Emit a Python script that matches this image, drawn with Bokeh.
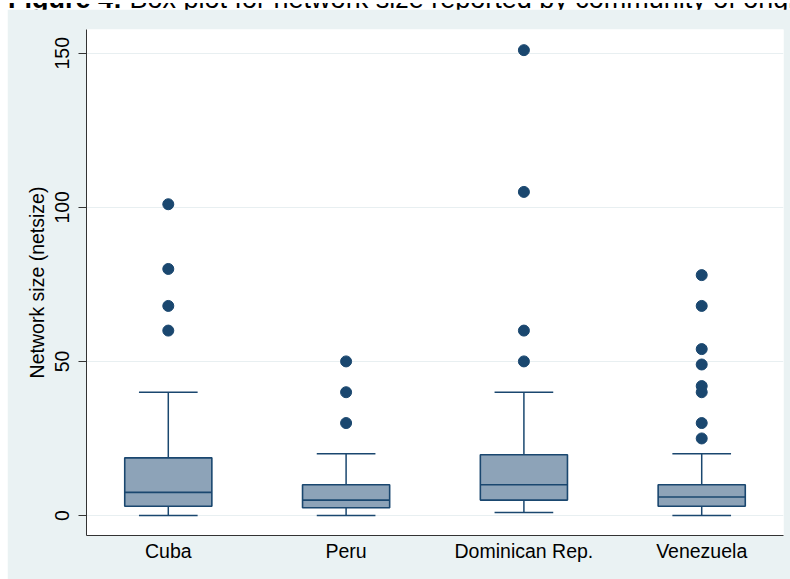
from bokeh.plotting import figure
from bokeh.models import FixedTicker, Range1d, Div
from bokeh.layouts import column
from bokeh.embed import file_html
from bokeh.resources import INLINE

categories = ["Cuba", "Peru", "Dominican Rep.", "Venezuela"]
q1 = [3, 2.5, 5, 3]
median = [7.5, 5, 10, 6]
q3 = [18.7, 10, 19.7, 10]
whisker_lo = [0, 0, 1, 0]
whisker_hi = [40, 20, 40, 20]
outliers = [
    [60, 68, 80, 101],
    [30, 40, 50],
    [50, 60, 105, 151],
    [25, 30, 40, 42, 49, 54, 68, 78],
]
y_ticks = [0, 50, 100, 150]
title_bold = "Figure 4:"
title_rest = " Box plot for network size reported by community of origin"

NAVY = "#1A476F"
FILL = "#8DA3B8"
BG = "#EAF2F3"
FONT = "Liberation Sans"

xs = [i + 1 for i in range(len(categories))]

p = figure(width=783, height=570, output_backend="svg", toolbar_location=None,
           x_range=Range1d(0.54, 4.46), y_range=Range1d(-6.49, 157.7),
           min_border_left=79, min_border_right=7, min_border_top=20, min_border_bottom=44)
p.margin = (0, 0, 0, 7)
p.border_fill_color = BG
p.background_fill_color = "white"
p.outline_line_color = None

p.xgrid.grid_line_color = None
p.ygrid.grid_line_color = "#E8EFF1"
p.ygrid.grid_line_width = 1
p.ygrid.ticker = FixedTicker(ticks=y_ticks)

# whiskers
p.segment(x0=xs, y0=q3, x1=xs, y1=whisker_hi, line_color=NAVY, line_width=1.5)
p.segment(x0=xs, y0=whisker_lo, x1=xs, y1=q1, line_color=NAVY, line_width=1.5)
cap = 0.165
p.segment(x0=[x - cap for x in xs], y0=whisker_hi, x1=[x + cap for x in xs], y1=whisker_hi,
          line_color=NAVY, line_width=1.5)
p.segment(x0=[x - cap for x in xs], y0=whisker_lo, x1=[x + cap for x in xs], y1=whisker_lo,
          line_color=NAVY, line_width=1.5)
# boxes
p.vbar(x=xs, bottom=q1, top=q3, width=0.49, fill_color=FILL, line_color=NAVY, line_width=1.6)
hw = 0.245
p.segment(x0=[x - hw for x in xs], y0=median, x1=[x + hw for x in xs], y1=median,
          line_color=NAVY, line_width=1.6)
# outliers
ox, oy = [], []
for x, vals in zip(xs, outliers):
    for v in vals:
        ox.append(x)
        oy.append(v)
p.scatter(x=ox, y=oy, size=11, fill_color=NAVY, line_color=NAVY)

# axes
p.xaxis.ticker = FixedTicker(ticks=xs)
p.xaxis.major_label_overrides = {x: c for x, c in zip(xs, categories)}
p.xaxis.major_tick_line_color = None
p.xaxis.minor_tick_line_color = None
p.xaxis.major_tick_out = 0
p.xaxis.major_label_standoff = 4
p.xaxis.axis_line_color = "#333333"
p.xaxis.major_label_text_font = FONT
p.xaxis.major_label_text_font_size = "19.5px"
p.xaxis.major_label_text_color = "black"

p.yaxis.ticker = FixedTicker(ticks=y_ticks)
p.yaxis.minor_tick_line_color = None
p.yaxis.major_tick_out = 8
p.yaxis.major_tick_in = 0
p.yaxis.major_tick_line_color = "#333333"
p.yaxis.axis_line_color = "#333333"
p.yaxis.major_label_orientation = "vertical"
p.yaxis.major_label_standoff = 9
p.yaxis.major_label_text_font = FONT
p.yaxis.major_label_text_font_size = "19.5px"
p.yaxis.major_label_text_color = "black"
p.yaxis.axis_label = "Network size (netsize)"
p.yaxis.axis_label_text_font = FONT
p.yaxis.axis_label_text_font_size = "19.5px"
p.yaxis.axis_label_text_font_style = "normal"
p.yaxis.axis_label_text_color = "black"
p.yaxis.axis_label_standoff = 5

title_html = (
    '<div style="height:9px;width:790px;overflow:hidden;background:white;white-space:nowrap;">'
    '<div style="font-family:\'Liberation Sans\';font-size:27px;line-height:27px;'
    'margin-top:-17px;margin-left:8px;color:black;">'
    f'<b>{title_bold}</b>{title_rest}</div></div>'
)
title_div = Div(text=title_html, width=790, height=9, margin=(0, 0, 0, 0))

layout = column(title_div, p, spacing=0)
open("out.html", "w").write(file_html(layout, INLINE))
